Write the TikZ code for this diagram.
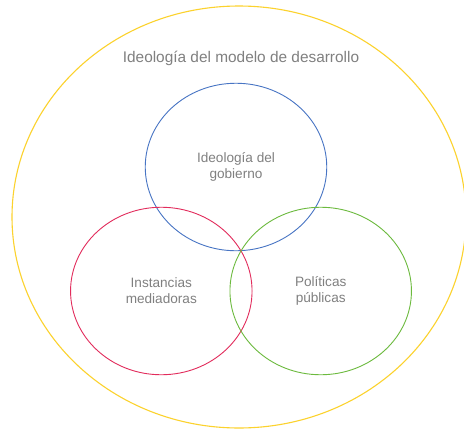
\documentclass[tikz,border=0pt]{standalone}
\usepackage{fontspec}
\setmainfont{Liberation Sans}
\usetikzlibrary{shapes.geometric}
\definecolor{ringyellow}{RGB}{252,210,45}
\definecolor{ringblue}{RGB}{72,117,196}
\definecolor{ringred}{RGB}{226,44,92}
\definecolor{ringgreen}{RGB}{108,186,62}
\definecolor{labelgray}{RGB}{128,128,128}
\tikzset{
  ring/.style={draw=#1, ellipse, line width=0.9pt, inner sep=0pt},
  smallset/.style={ring=#1, minimum width=181.5pt, minimum height=167.5pt,
    align=center, text=labelgray, font=\fontsize{13.6}{16}\selectfont},
  titlelabel/.style={text=labelgray, font=\fontsize{15.4}{18}\selectfont, inner sep=0pt}
}
\begin{document}
\begin{tikzpicture}[x=1pt,y=-1pt]
  \useasboundingbox (0,0) rectangle (464,429);
  \fill[white] (0,0) rectangle (464,429);
  % surrounding ideology
  \node[ring=ringyellow, line width=1.1pt, minimum width=454pt, minimum height=422pt] (modelo) at (239,217) {};
  \node[titlelabel] (titulo) at (241,58) {Ideología del modelo de desarrollo};
  % three overlapping sets
  \node[smallset=ringblue] (gobierno) at (236,167) {Ideología del\\gobierno};
  \node[smallset=ringred] (instancias) at (161.3,291) {Instancias\\mediadoras};
  \node[smallset=ringgreen] (politicas) at (320.7,291) {Políticas\\públicas};
\end{tikzpicture}
\end{document}
